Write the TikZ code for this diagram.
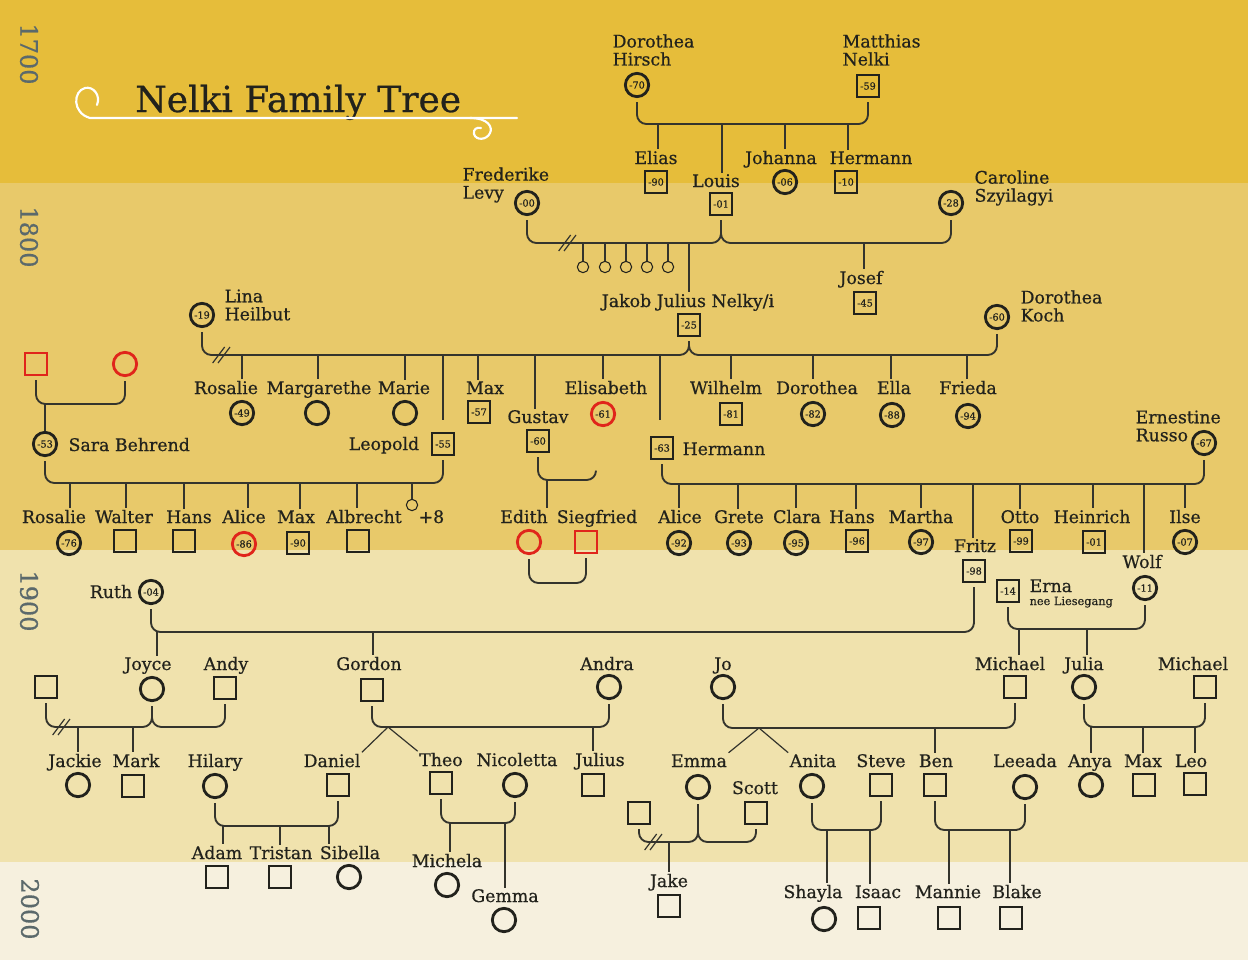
\documentclass[tikz,border=0pt]{standalone}
\usepackage{fontspec}
\setmainfont{DejaVu Serif}[FakeBold=0.6]
\definecolor{ink}{HTML}{22221C}
\definecolor{lc}{HTML}{34342D}
\definecolor{rc}{HTML}{E0251B}
\definecolor{bandA}{HTML}{E6BD3A}
\definecolor{bandB}{HTML}{E8C96A}
\definecolor{bandC}{HTML}{F0E2AD}
\definecolor{bandD}{HTML}{F6F0DE}
\definecolor{cent}{HTML}{5B696B}
\newcommand\yrfont{\fontsize{7.3}{7.5}\selectfont}
\newcommand\nmfont{\fontsize{13}{13.5}\selectfont}
\newcommand\myF[5][]{\node[fem,#1] (#2) at (#3,#4) {#5};}
\newcommand\myM[5][]{\node[mal,#1] (#2) at (#3,#4) {#5};}
\newcommand\myL[5][]{\node[lab,#1] (#2) at (#3,#4) {#5};}
\newcommand\myD[4]{\coordinate (#1) at (#2,#3); \draw[dline] (#1) -- (#1 |- #4);}
\newcommand\myR[3]{\draw[mline] (#1.south) -- (#1.south |- #3) -- (#2.south |- #3) -- (#2.south);}
\newcommand\myV[3]{\coordinate (#1) at (#2,#3);
  \draw[dline] ([xshift=-7pt,yshift=-6pt]#1) -- ([xshift=2pt,yshift=6pt]#1)
               ([xshift=-3pt,yshift=-6pt]#1) -- ([xshift=6pt,yshift=6pt]#1);}
\tikzset{
  fem/.style={circle, draw=ink, line width=2.1pt, minimum size=17.5pt, inner sep=0pt, font=\yrfont, text=ink},
  mal/.style={rectangle, draw=ink, line width=1.5pt, minimum size=16.5pt, inner sep=0pt, font=\yrfont, text=ink},
  tinyc/.style={circle, draw=ink, line width=0.8pt, minimum size=8.5pt, inner sep=0pt},
  lab/.style={anchor=base, font=\nmfont, text=ink, inner sep=1pt},
  blk/.style={anchor=west, font=\nmfont, text=ink, inner sep=1pt, align=left},
  mline/.style={draw=lc, line width=1.4pt, rounded corners=7pt, shorten <=3pt, shorten >=3pt},
  dline/.style={draw=lc, line width=0.9pt},
  century/.style={rotate=-90, font=\fontsize{18}{18}\selectfont, text=cent},
}
\begin{document}
\begin{tikzpicture}[x=0.75pt,y=-0.75pt]
% bands
\fill[bandA] (0,0) rectangle (1248,183);
\fill[bandB] (0,183) rectangle (1248,550);
\fill[bandC] (0,550) rectangle (1248,862);
\fill[bandD] (0,862) rectangle (1248,960);
\useasboundingbox (0,0) rectangle (1248,960);
\node[century] (c17) at (29,54) {1700};
\node[century] (c18) at (29,237) {1800};
\node[century] (c19) at (29,601) {1900};
\node[century] (c20) at (30,909) {2000};
% title
\node[anchor=base west, font=\fontsize{27}{32}\selectfont, text=ink, inner sep=0pt] (title) at (135,112) {Nelki Family Tree};
\draw[white, line width=1.6pt, line cap=round]
  (97,105) .. controls (101,95) and (93,86) .. (85,88)
  .. controls (73,91) and (72,113) .. (90,118) -- (517,118);
\draw[white, line width=1.6pt, line cap=round]
  (470,118) .. controls (488,118) and (493,127) .. (490,133)
  .. controls (487,140) and (476,141) .. (474,134)
  .. controls (473,129) and (477,127) .. (481,128);
% ---------- generation 1
\myF{dh}{637}{85}{-70}
\myM{mn}{868}{86}{-59}
\node[blk] (dhl) at (611,50) {Dorothea\\Hirsch};
\node[blk] (mnl) at (841,50) {Matthias\\Nelki};
\coordinate (m1) at (0,124);
\myR{dh}{mn}{m1}
\myM{elias}{656}{182}{-90}
\myM{louis}{721}{204}{-01}
\myF{johanna}{785}{182}{-06}
\myM{hermA}{846}{182}{-10}
\myL{eliasl}{656}{164}{Elias}
\myL{louisl}{716}{187}{Louis}
\myL{johannal}{781}{164}{Johanna}
\myL{hermAl}{871}{164}{Hermann}
\myD{d1}{658}{124}{eliasl.north}
\myD{d2}{722}{124}{louisl.north}
\myD{d3}{785}{124}{johannal.north}
\myD{d4}{848}{124}{hermAl.north}
% ---------- generation 2
\myF{fl}{527}{203}{-00}
\myF{cs}{951}{203}{-28}
\node[blk] (fll) at (461,185) {Frederike\\Levy};
\node[blk] (csl) at (973,188) {Caroline\\Szyilagyi};
\coordinate (m2) at (0,243);
\myR{fl}{louis}{m2}
\myR{louis}{cs}{m2}
\myV{v1}{568}{243}
\foreach \i/\x in {1/583,2/605,3/626,4/647,5/668}{
  \node[tinyc] (k\i) at (\x,267) {};
  \myD{dk\i}{\x}{243}{k\i.north}
}
\myM{jakob}{689}{325}{-25}
\myM{josef}{865}{303}{-45}
\myL{jakobl}{688}{307}{Jakob Julius Nelky/i}
\myL{josefl}{861}{284}{Josef}
\myD{d5}{689}{243}{jakobl.north}
\myD{d6}{864}{243}{josefl.north}
% ---------- generation 3
\myF{lina}{202}{315}{-19}
\myF{koch}{997}{317}{-60}
\node[blk] (linal) at (223,305) {Lina\\Heilbut};
\node[blk] (kochl) at (1019,306) {Dorothea\\Koch};
\coordinate (m3) at (0,355);
\myR{lina}{jakob}{m3}
\myR{jakob}{koch}{m3}
\myV{v2}{222}{355}
\myF{rosA}{242}{413}{-49}
\myF{marg}{317}{413}{}
\myF{marie}{405}{413}{}
\myM{leop}{443}{444}{-55}
\myM{maxA}{479}{412}{-57}
\myM{gust}{538}{441}{-60}
\myF[draw=rc]{elis}{603}{414}{-61}
\myM{hermB}{662}{448}{-63}
\myM{wilh}{731}{414}{-81}
\myF{dorB}{813}{414}{-82}
\myF{ella}{892}{415}{-88}
\myF{frie}{968}{416}{-94}
\myL{rosAl}{226}{394}{Rosalie}
\myL{margl}{319}{394}{Margarethe}
\myL{mariel}{404}{394}{Marie}
\myL{maxAl}{485}{394}{Max}
\myL{elisl}{606}{394}{Elisabeth}
\myL{wilhl}{726}{394}{Wilhelm}
\myL{dorBl}{817}{394}{Dorothea}
\myL{ellal}{894}{394}{Ella}
\myL{friel}{968}{394}{Frieda}
\myL{gustl}{538}{423}{Gustav}
\myL{leopl}{384}{450}{Leopold}
\myL[anchor=base west]{hermBl}{681}{455}{Hermann}
\coordinate (e420) at (0,420);
\myD{d7}{242}{355}{rosAl.north}
\myD{d8}{318}{355}{margl.north}
\myD{d9}{405}{355}{mariel.north}
\myD{d10}{443}{355}{e420}
\myD{d11}{478}{355}{maxAl.north}
\myD{d12}{535}{355}{gustl.north}
\myD{d13}{603}{355}{elisl.north}
\myD{d14}{660}{355}{e420}
\myD{d15}{731}{355}{wilhl.north}
\myD{d16}{813}{355}{dorBl.north}
\myD{d17}{891}{355}{ellal.north}
\myD{d18}{967}{355}{friel.north}
% Sara Behrend
\myM[draw=rc]{spa}{36}{364}{}
\myF[draw=rc]{spb}{125}{364}{}
\coordinate (m4) at (0,404);
\myR{spa}{spb}{m4}
\myF{sara}{45}{444}{-53}
\myL[anchor=base west]{saral}{67}{451}{Sara Behrend}
\myD{d19}{45}{404}{sara.north}
% Ernestine
\myF{erne}{1204}{443}{-67}
\node[blk] (ernel) at (1134,426) {Ernestine\\Russo};
% ---------- generation 4
\coordinate (m5) at (0,483);
\myR{sara}{leop}{m5}
\myF{rosB}{69}{543}{-76}
\myM{walt}{125}{541}{}
\myM{hansA}{184}{541}{}
\myF[draw=rc]{aliA}{244}{544}{-86}
\myM{maxB}{298}{543}{-90}
\myM{albr}{358}{541}{}
\node[tinyc] (p8) at (412,505) {};
\myL{rosBl}{54}{523}{Rosalie}
\myL{waltl}{124}{523}{Walter}
\myL{hansAl}{189}{523}{Hans}
\myL{aliAl}{244}{523}{Alice}
\myL{maxBl}{296}{523}{Max}
\myL{albrl}{364}{523}{Albrecht}
\myL[anchor=base west]{p8l}{417}{523}{+8}
\myD{d20}{70}{483}{rosBl.north}
\myD{d21}{126}{483}{waltl.north}
\myD{d22}{184}{483}{hansAl.north}
\myD{d23}{248}{483}{aliAl.north}
\myD{d24}{300}{483}{maxBl.north}
\myD{d25}{357}{483}{albrl.north}
\myD{d26}{412}{483}{p8.north}
% Gustav
\coordinate (m6) at (0,480);
\coordinate (gend) at (596,467);
\draw[mline] (gust.south) -- (gust.south |- m6) -- (gend |- m6) -- (gend);
\myF[draw=rc]{edith}{529}{542}{}
\myM[draw=rc]{sieg}{586}{542}{}
\myL{edithl}{524}{523}{Edith}
\myL{siegl}{597}{523}{Siegfried}
\myD{d27}{547}{480}{edithl.north}
\coordinate (m7) at (0,583);
\myR{edith}{sieg}{m7}
% Hermann + Ernestine
\coordinate (m8) at (0,484);
\myR{hermB}{erne}{m8}
\myF{aliB}{679}{543}{-92}
\myF{grete}{739}{543}{-93}
\myF{clara}{796}{543}{-95}
\myM{hansB}{857}{541}{-96}
\myF{martha}{921}{542}{-97}
\myM{otto}{1021}{541}{-99}
\myM{hein}{1094}{542}{-01}
\myF{ilse}{1185}{542}{-07}
\myM{fritz}{974}{571}{-98}
\myF{wolf}{1145}{588}{-11}
\myL{aliBl}{680}{523}{Alice}
\myL{gretel}{739}{523}{Grete}
\myL{claral}{797}{523}{Clara}
\myL{hansBl}{852}{523}{Hans}
\myL{marthal}{921}{523}{Martha}
\myL{ottol}{1020}{523}{Otto}
\myL{heinl}{1092}{523}{Heinrich}
\myL{ilsel}{1185}{523}{Ilse}
\myL{fritzl}{975}{552}{Fritz}
\myL{wolfl}{1142}{568}{Wolf}
\myD{d28}{679}{484}{aliBl.north}
\myD{d29}{738}{484}{gretel.north}
\myD{d30}{796}{484}{claral.north}
\myD{d31}{856}{484}{hansBl.north}
\myD{d32}{921}{484}{marthal.north}
\myD{d33}{973}{484}{fritzl.north}
\myD{d34}{1020}{484}{ottol.north}
\myD{d35}{1093}{484}{heinl.north}
\myD{d36}{1144}{484}{wolfl.north}
\myD{d37}{1185}{484}{ilsel.north}
% Erna + Wolf
\myM{erna}{1008}{591}{-14}
\myL[anchor=base west]{ernal}{1028}{592}{Erna}
\node[anchor=base west, font=\fontsize{8.5}{9}\selectfont, text=ink, inner sep=1pt] (ernanee) at (1028,605) {nee Liesegang};
\coordinate (m9) at (0,629);
\myR{erna}{wolf}{m9}
% Ruth + Fritz
\myF{ruth}{151}{592}{-04}
\myL{ruthl}{111}{598}{Ruth}
\coordinate (m10) at (0,632);
\myR{ruth}{fritz}{m10}
% ---------- generation 5
\myM{unA}{46}{687}{}
\myF{joyce}{152}{689}{}
\myM{andy}{225}{688}{}
\myM{gord}{372}{690}{}
\myF{andra}{609}{687}{}
\myF{jo}{723}{687}{}
\myM{michA}{1015}{687}{}
\myF{julia}{1084}{687}{}
\myM{michB}{1205}{687}{}
\myL{joycel}{148}{670}{Joyce}
\myL{andyl}{226}{670}{Andy}
\myL{gordl}{369}{670}{Gordon}
\myL{andral}{607}{670}{Andra}
\myL{jol}{723}{670}{Jo}
\myL{michAl}{1010}{670}{Michael}
\myL{julial}{1084}{670}{Julia}
\myL{michBl}{1193}{670}{Michael}
\myD{d38}{157}{632}{joycel.north}
\myD{d39}{373}{632}{gordl.north}
\myD{d40}{1019}{629}{michAl.north}
\myD{d41}{1087}{629}{julial.north}
% ---------- generation 6
\coordinate (m11) at (0,727);
\myR{unA}{joyce}{m11}
\myR{joyce}{andy}{m11}
\myV{v3}{62}{727}
\coordinate (m12) at (0,727);
\myR{gord}{andra}{m12}
\coordinate (m13) at (0,728);
\myR{jo}{michA}{m13}
\coordinate (m14) at (0,727);
\myR{julia}{michB}{m14}
\myF{jackie}{78}{785}{}
\myM{mark}{133}{786}{}
\myF{hilary}{215}{786}{}
\myM{daniel}{338}{785}{}
\myM{theo}{441}{783}{}
\myF{nico}{515}{785}{}
\myM{julius}{593}{785}{}
\myF{emma}{698}{787}{}
\myM{scott}{756}{813}{}
\myM{unB}{639}{813}{}
\myF{anita}{812}{786}{}
\myM{steve}{881}{785}{}
\myM{ben}{935}{785}{}
\myF{leeada}{1025}{787}{}
\myF{anya}{1091}{785}{}
\myM{maxC}{1144}{785}{}
\myM{leo}{1195}{784}{}
\myL{jackiel}{75}{767}{Jackie}
\myL{markl}{136}{767}{Mark}
\myL{hilaryl}{215}{767}{Hilary}
\myL{daniell}{332}{767}{Daniel}
\myL{theol}{441}{766}{Theo}
\myL{nicol}{517}{766}{Nicoletta}
\myL{juliusl}{600}{766}{Julius}
\myL{emmal}{699}{767}{Emma}
\myL{anital}{813}{767}{Anita}
\myL{stevel}{881}{767}{Steve}
\myL{benl}{936}{767}{Ben}
\myL{leeadal}{1025}{767}{Leeada}
\myL{anyal}{1090}{767}{Anya}
\myL{maxCl}{1143}{767}{Max}
\myL{leol}{1191}{767}{Leo}
\myL{scottl}{755}{794}{Scott}
\myD{d42}{78}{727}{jackiel.north}
\myD{d43}{133}{727}{markl.north}
\myD{d44}{593}{727}{juliusl.north}
\coordinate (ga) at (388,727);
\draw[dline] (ga) -- (daniell.north east);
\draw[dline] (ga) -- (theol.north west);
\myD{d45}{935}{728}{benl.north}
\coordinate (ja) at (759,728);
\draw[dline] (ja) -- (emmal.north east);
\draw[dline] (ja) -- (anital.north west);
\myD{d46}{1091}{727}{anyal.north}
\myD{d47}{1143}{727}{maxCl.north}
\myD{d48}{1195}{727}{leol.north}
% ---------- generation 7
\coordinate (m15) at (0,826);
\myR{hilary}{daniel}{m15}
\coordinate (m16) at (0,823);
\myR{theo}{nico}{m16}
\coordinate (m17) at (0,842);
\myR{unB}{emma}{m17}
\myR{emma}{scott}{m17}
\myV{v4}{654}{842}
\coordinate (m18) at (0,830);
\myR{anita}{steve}{m18}
\coordinate (m19) at (0,830);
\myR{ben}{leeada}{m19}
\myM{adam}{217}{877}{}
\myM{tris}{280}{877}{}
\myF{sib}{349}{877}{}
\myF{mich}{447}{885}{}
\myF{gemma}{504}{920}{}
\myM{jake}{669}{906}{}
\myF{shay}{824}{919}{}
\myM{isaac}{869}{918}{}
\myM{mann}{949}{918}{}
\myM{blake}{1011}{918}{}
\myL{adaml}{217}{859}{Adam}
\myL{trisl}{281}{859}{Tristan}
\myL{sibl}{350}{859}{Sibella}
\myL{michl}{447}{867}{Michela}
\myL{gemmal}{505}{902}{Gemma}
\myL{jakel}{669}{887}{Jake}
\myL{shayl}{813}{898}{Shayla}
\myL{isaacl}{878}{898}{Isaac}
\myL{mannl}{948}{898}{Mannie}
\myL{blakel}{1017}{898}{Blake}
\myD{d49}{223}{826}{adaml.north}
\myD{d50}{280}{826}{trisl.north}
\myD{d51}{329}{826}{sibl.north}
\myD{d52}{450}{823}{michl.north}
\myD{d53}{505}{823}{gemmal.north}
\myD{d54}{669}{842}{jakel.north}
\myD{d55}{827}{830}{shayl.north}
\myD{d56}{870}{830}{isaacl.north}
\myD{d57}{949}{830}{mannl.north}
\myD{d58}{1010}{830}{blakel.north}
\end{tikzpicture}
\end{document}
